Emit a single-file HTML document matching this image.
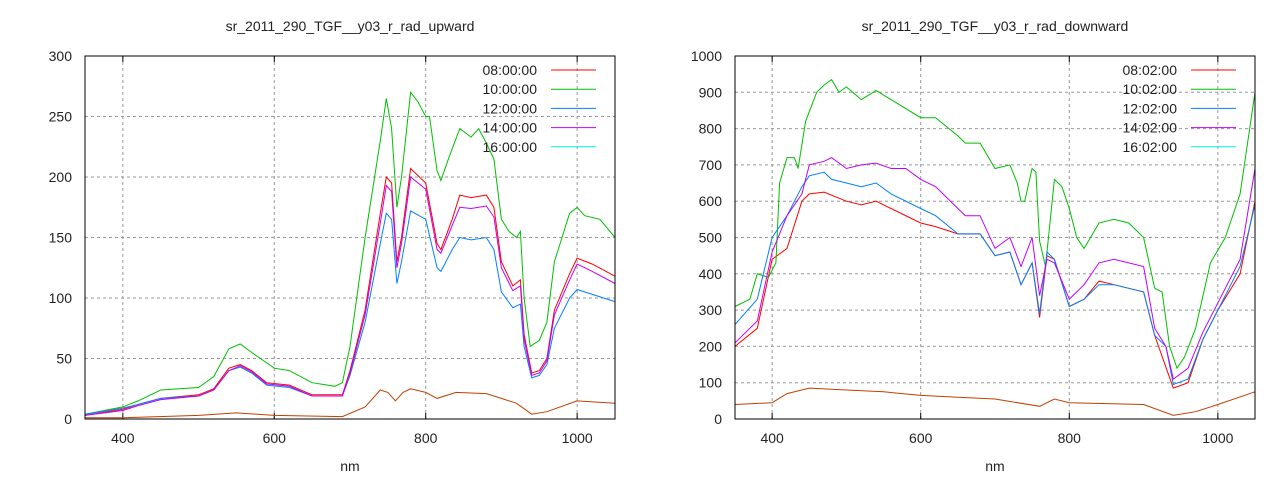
<!DOCTYPE html><html><head><style>body{margin:0;background:#fff}svg text{font-family:"Liberation Sans",sans-serif;font-size:14px;fill:#222}</style></head><body>
<svg id="s" width="1280" height="480" xmlns="http://www.w3.org/2000/svg"></svg>
<script>
const S=document.getElementById('s');let h='';
function P(cfg){const {x0,x1,y0,y1,ymax,ystep,title,leg,series}=cfg;
const X=v=>x0+(v-350)/700*(x1-x0),Y=v=>y1-v/ymax*(y1-y0);
for(let v=ystep;v<ymax;v+=ystep)h+=`<line x1="${x0}" x2="${x1}" y1="${Y(v)}" y2="${Y(v)}" stroke="#999" stroke-dasharray="3,3"/>`;
for(let v=400;v<=1000;v+=200)h+=`<line x1="${X(v)}" x2="${X(v)}" y1="${y0}" y2="${y1}" stroke="#999" stroke-dasharray="3,3"/><line x1="${X(v)}" x2="${X(v)}" y1="${y1}" y2="${y1-6}" stroke="#000"/><line x1="${X(v)}" x2="${X(v)}" y1="${y0}" y2="${y0+6}" stroke="#000"/><text x="${X(v)}" y="${y1+24}" text-anchor="middle">${v}</text>`;
for(let v=0;v<=ymax;v+=ystep)h+=`<text x="${x0-13}" y="${Y(v)+5}" text-anchor="end">${v}</text>`;
const cols=['#ff0000','#00c000','#0080ff','#c000ff','#c04000'],lc=['#ff0000','#00c000','#0080ff','#c000ff','#00eeee'];
series.forEach((d,i)=>{let p='';for(let j=0;j<d.length;j+=2)p+=(j?'L':'M')+X(d[j]).toFixed(1)+','+Y(d[j+1]).toFixed(1);h+=`<path d="${p}" fill="none" stroke="${cols[i]}" stroke-width="1"/>`;});
leg.forEach((t,i)=>{const y=70+i*19.2;h+=`<text x="${x1-78}" y="${y+5}" text-anchor="end">${t}</text><line x1="${x1-64}" x2="${x1-19}" y1="${y}" y2="${y}" stroke="${lc[i]}"/>`;});
h+=`<rect x="${x0}" y="${y0}" width="${x1-x0}" height="${y1-y0}" fill="none" stroke="#000"/>`;
h+=`<text x="${(x0+x1)/2}" y="31" text-anchor="middle">${title}</text><text x="${(x0+x1)/2}" y="471" text-anchor="middle">nm</text>`;}
P({x0:85,x1:615,y0:56,y1:419,ymax:300,ystep:50,title:'sr_2011_290_TGF__y03_r_rad_upward',leg:['08:00:00','10:00:00','12:00:00','14:00:00','16:00:00'],series:[
[350,3,400,8,420,12,450,17,500,20,520,25,540,42,555,45,570,40,590,30,620,28,650,20,690,20,700,40,720,90,740,170,748,200,755,195,762,130,768,150,780,207,800,195,815,145,820,140,835,165,845,185,860,183,880,185,890,175,900,130,915,110,925,115,930,70,940,38,950,40,960,50,970,90,990,120,1000,133,1020,128,1050,118],
[350,4,400,10,420,15,450,24,500,26,520,35,540,58,555,62,570,55,600,42,620,40,650,30,680,27,690,30,700,60,720,150,740,230,748,265,755,240,762,175,768,200,780,270,790,262,800,250,805,250,815,205,820,197,830,215,845,240,860,233,870,240,880,228,890,215,900,165,910,155,920,150,925,155,930,100,938,60,950,65,960,80,970,130,980,150,990,170,1000,175,1010,168,1030,165,1050,150],
[350,4,400,9,420,12,450,17,500,19,520,24,540,40,555,43,570,38,590,28,620,26,650,19,690,19,700,36,720,80,740,145,748,170,755,165,762,112,768,130,780,172,800,165,815,125,820,122,835,140,845,150,860,148,880,150,890,140,900,105,915,92,925,95,930,60,940,34,950,36,960,45,970,75,990,100,1000,107,1020,103,1050,97],
[350,3,400,7,420,11,450,16,500,19,520,24,540,40,555,44,570,39,590,29,620,27,650,19,690,19,700,38,720,86,740,162,748,193,755,188,762,125,768,145,780,200,800,190,815,140,820,137,835,160,845,175,860,174,880,176,890,167,900,125,915,106,925,110,930,66,940,36,950,38,960,48,970,86,990,115,1000,128,1020,122,1050,112],
[350,1,400,1,500,3,550,5,600,3,690,2,720,10,740,24,750,22,760,15,770,22,780,25,800,22,815,17,840,22,880,21,900,17,920,13,940,4,960,6,1000,15,1050,13]]});
P({x0:735,x1:1255,y0:56,y1:419,ymax:1000,ystep:100,title:'sr_2011_290_TGF__y03_r_rad_downward',leg:['08:02:00','10:02:00','12:02:00','14:02:00','16:02:00'],series:[
[350,200,380,250,400,440,420,470,440,600,450,620,470,625,500,600,520,590,540,600,560,580,600,540,620,530,650,510,680,510,700,450,720,460,735,370,750,430,760,280,770,450,780,440,800,310,820,330,840,380,860,370,880,360,900,350,915,230,940,85,960,100,980,220,1000,300,1030,400,1050,600],
[350,310,370,330,380,400,395,390,405,430,410,650,420,720,430,720,435,690,445,820,460,900,470,920,480,935,490,900,500,915,520,880,540,905,560,880,600,830,620,830,650,780,660,760,680,760,700,690,720,700,730,650,735,600,740,600,750,690,755,680,760,490,768,420,780,660,790,640,800,580,810,500,820,470,840,540,860,550,880,540,900,500,915,360,925,350,935,200,945,140,955,170,970,250,990,430,1010,500,1030,620,1050,900],
[350,260,380,330,400,500,420,560,440,640,450,670,470,680,480,660,500,650,520,640,540,650,560,620,600,580,620,560,650,510,680,510,700,450,720,460,735,370,750,430,760,290,770,460,780,440,800,310,820,330,840,370,860,370,880,360,900,350,915,230,930,200,940,95,960,110,980,220,1000,300,1030,420,1050,590],
[350,210,380,270,400,460,420,560,440,620,450,700,470,710,480,720,500,690,520,700,540,705,560,690,580,690,600,660,620,640,650,580,660,560,680,560,700,470,720,500,735,420,750,500,760,340,770,440,780,430,800,330,820,370,840,430,860,440,880,430,900,420,915,250,930,200,940,110,960,140,980,240,1000,320,1030,440,1050,690],
[350,40,400,45,420,70,450,85,500,80,550,75,600,65,650,60,700,55,760,35,780,55,800,45,900,40,940,10,970,20,1000,40,1050,75]]});
S.innerHTML=h;
</script></body></html>
